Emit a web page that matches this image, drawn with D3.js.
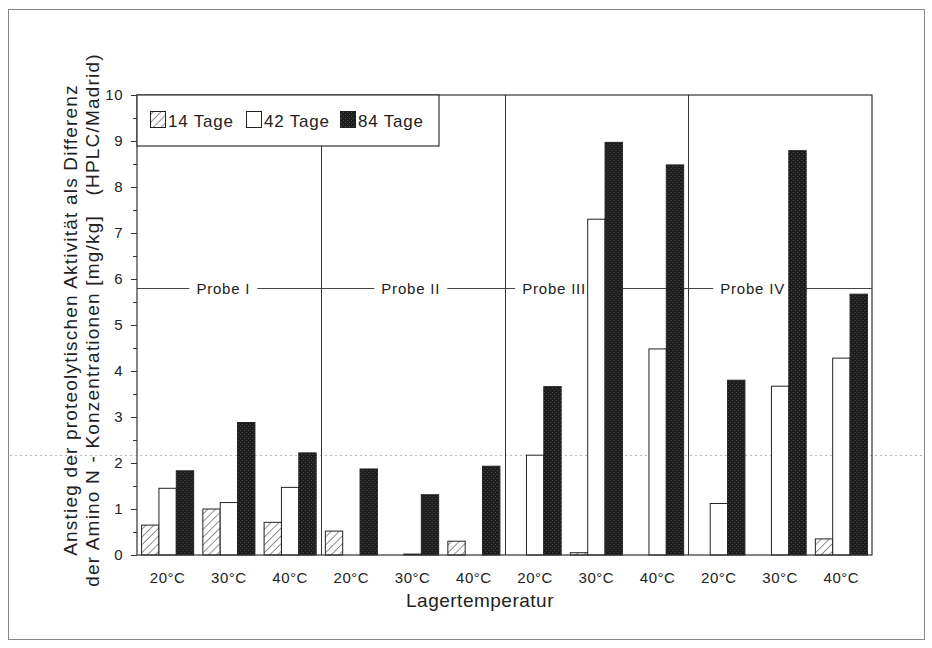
<!DOCTYPE html>
<html>
<head>
<meta charset="utf-8">
<script src="https://cdn.jsdelivr.net/npm/d3@7"></script>
<style>
  body { margin: 0; background: #fff; }
  text { font-family: "Liberation Sans", Arial, sans-serif; fill: #222; }
</style>
</head>
<body>
<svg id="chart" width="932" height="648"></svg>
<script>
// values
var probes = ["Probe I", "Probe II", "Probe III", "Probe IV"];
var temps = ["20°C", "30°C", "40°C"];
var series = ["14 Tage", "42 Tage", "84 Tage"];
// one row per probe, one triple per temperature: [14 Tage, 42 Tage, 84 Tage]
var probeI   = [[0.65, 1.45, 1.83], [1.00, 1.14, 2.88], [0.71, 1.47, 2.22]];
var probeII  = [[0.52, 0.00, 1.87], [0.00, 0.02, 1.31], [0.30, 0.00, 1.93]];
var probeIII = [[0.00, 2.17, 3.66], [0.05, 7.30, 8.97], [0.00, 4.48, 8.48]];
var probeIV  = [[0.00, 1.12, 3.80], [0.00, 3.67, 8.79], [0.35, 4.28, 5.67]];
var yTicks = [0, 1, 2, 3, 4, 5, 6, 7, 8, 9, 10];
var probeLineValue = 5.8;

var allData = [probeI, probeII, probeIII, probeIV];

var svg = d3.select("#chart");
var pLeft = 137, pRight = 872, pTop = 95, pBottom = 555;

// outer frame of the scanned figure
svg.append("rect").attr("x", 8.5).attr("y", 9.5).attr("width", 916).attr("height", 630)
  .attr("fill", "none").attr("stroke", "#888").attr("stroke-width", 1);

// patterns
var defs = svg.append("defs");
var hatch = defs.append("pattern").attr("id", "hatch").attr("patternUnits", "userSpaceOnUse")
  .attr("width", 5.5).attr("height", 5.5).attr("patternTransform", "rotate(45)");
hatch.append("rect").attr("width", 5.5).attr("height", 5.5).attr("fill", "#fff");
hatch.append("line").attr("x1", 0).attr("y1", 0).attr("x2", 0).attr("y2", 5.5)
  .attr("stroke", "#222").attr("stroke-width", 1);
var stip = defs.append("pattern").attr("id", "stip").attr("patternUnits", "userSpaceOnUse")
  .attr("width", 4).attr("height", 4);
stip.append("rect").attr("width", 4).attr("height", 4).attr("fill", "#1c1c1c");
stip.append("rect").attr("x", 1).attr("y", 2).attr("width", 1).attr("height", 1).attr("fill", "#555");
stip.append("rect").attr("x", 3).attr("y", 0).attr("width", 1).attr("height", 1).attr("fill", "#4a4a4a");

var fills = ["url(#hatch)", "#fff", "url(#stip)"];

var y = d3.scaleLinear().domain([0, 10]).range([pBottom, pTop]);

// cluster keys: probe|temp
var clusters = [];
probes.forEach(function(p) { temps.forEach(function(t) { clusters.push(p + "|" + t); }); });
var x0 = d3.scaleBand().domain(clusters).range([pLeft, pRight]).paddingInner(0.15).paddingOuter(0.075);
var x1 = d3.scaleBand().domain(series).range([0, x0.bandwidth()]);
var probeX = d3.scaleBand().domain(probes).range([pLeft, pRight]);

// scan artifact: faint dotted line
svg.append("line").attr("x1", 10).attr("x2", 922).attr("y1", 455.5).attr("y2", 455.5)
  .attr("stroke", "#bbb").attr("stroke-dasharray", "2,3").attr("stroke-width", 1);

// probe line with labels
var py = Math.round(y(probeLineValue)) + 0.5;
svg.append("line").attr("x1", pLeft).attr("x2", pRight).attr("y1", py).attr("y2", py)
  .attr("stroke", "#444").attr("stroke-width", 1);
var labelOffset = [0.47, 0.49, 0.27, 0.35]; // fraction of probe width where each label sits
probes.forEach(function(p, i) {
  var cx = probeX(p) + probeX.bandwidth() * labelOffset[i];
  var t = svg.append("text").attr("x", cx).attr("y", py + 5)
    .attr("text-anchor", "middle").attr("font-size", 15).attr("letter-spacing", 0.8).text(p);
  var bb = t.node().getBBox();
  svg.insert("rect", function() { return t.node(); })
    .attr("x", bb.x - 7).attr("y", bb.y).attr("width", bb.width + 14).attr("height", bb.height)
    .attr("fill", "#fff");
});

// group dividers
probes.slice(1).forEach(function(p, i) {
  var gx = Math.round(probeX(p)) + 0.5;
  svg.append("line").attr("x1", gx).attr("x2", gx)
    .attr("y1", i === 0 ? 146 : pTop).attr("y2", pBottom)
    .attr("stroke", "#333").attr("stroke-width", 1);
});

// bars
allData.forEach(function(rows, pi) {
  rows.forEach(function(vals, ti) {
    var key = probes[pi] + "|" + temps[ti];
    var items = vals.map(function(v, si) { return { s: si, v: v }; })
      .filter(function(d) { return d.v > 0; });
    svg.append("g").attr("transform", "translate(" + x0(key) + ",0)")
      .selectAll("rect").data(items).enter().append("rect")
      .attr("x", function(d) { return x1(series[d.s]); })
      .attr("y", function(d) { return y(d.v); })
      .attr("width", x1.bandwidth())
      .attr("height", function(d) { return pBottom - y(d.v); })
      .attr("fill", function(d) { return fills[d.s]; })
      .attr("stroke", "#222").attr("stroke-width", 1);
  });
});

// frame
svg.append("rect").attr("x", pLeft).attr("y", pTop).attr("width", pRight - pLeft).attr("height", pBottom - pTop)
  .attr("fill", "none").attr("stroke", "#333").attr("stroke-width", 1.2);

// y axis
var yAxis = d3.axisLeft(y).tickValues(yTicks).tickSize(6).tickPadding(8).tickFormat(d3.format("d"));
var ya = svg.append("g").attr("transform", "translate(" + pLeft + ",0)").call(yAxis);
ya.select(".domain").remove();
ya.selectAll("text").attr("font-size", 15).attr("font-family", "Liberation Sans, Arial, sans-serif")
  .attr("fill", "#222").attr("letter-spacing", 0.5);
ya.selectAll("line").attr("stroke", "#333");
var minor = d3.range(0.5, 10, 1);
svg.selectAll(".minor").data(minor).enter().append("line").attr("class", "minor")
  .attr("x1", pLeft - 4).attr("x2", pLeft)
  .attr("y1", function(d) { return Math.round(y(d)) + 0.5; })
  .attr("y2", function(d) { return Math.round(y(d)) + 0.5; })
  .attr("stroke", "#333");

// x labels
svg.selectAll(".xl").data(clusters).enter().append("text").attr("class", "xl")
  .attr("x", function(d) { return x0(d) + x0.bandwidth() / 2; })
  .attr("y", 583).attr("text-anchor", "middle").attr("font-size", 15).attr("letter-spacing", 0.5)
  .text(function(d) { return d.split("|")[1]; });

svg.append("text").attr("x", 480).attr("y", 607).attr("text-anchor", "middle")
  .attr("font-size", 19).attr("letter-spacing", 0.5).text("Lagertemperatur");

// y title
var yt = svg.append("g").attr("transform", "translate(77,320) rotate(-90)");
yt.append("text").attr("text-anchor", "middle").attr("font-size", 19).attr("letter-spacing", 1.2)
  .text("Anstieg der proteolytischen Aktivität als Differenz");
yt.append("text").attr("y", 22).attr("text-anchor", "middle").attr("font-size", 19).attr("letter-spacing", 1.2)
  .attr("xml:space", "preserve")
  .text("der Amino N - Konzentrationen [mg/kg]   (HPLC/Madrid)");

// legend
var lg = svg.append("g");
lg.append("rect").attr("x", pLeft).attr("y", pTop).attr("width", 302).attr("height", 51)
  .attr("fill", "#fff").attr("stroke", "#333").attr("stroke-width", 1.2);
var legX = [150, 246, 340];
series.forEach(function(s, i) {
  lg.append("rect").attr("x", legX[i] + 0.5).attr("y", 111.5).attr("width", 15).attr("height", 16)
    .attr("fill", fills[i]).attr("stroke", "#222");
  lg.append("text").attr("x", legX[i] + 18).attr("y", 127).attr("font-size", 17)
    .attr("letter-spacing", 0.8).text(s);
});
</script>
</body>
</html>
